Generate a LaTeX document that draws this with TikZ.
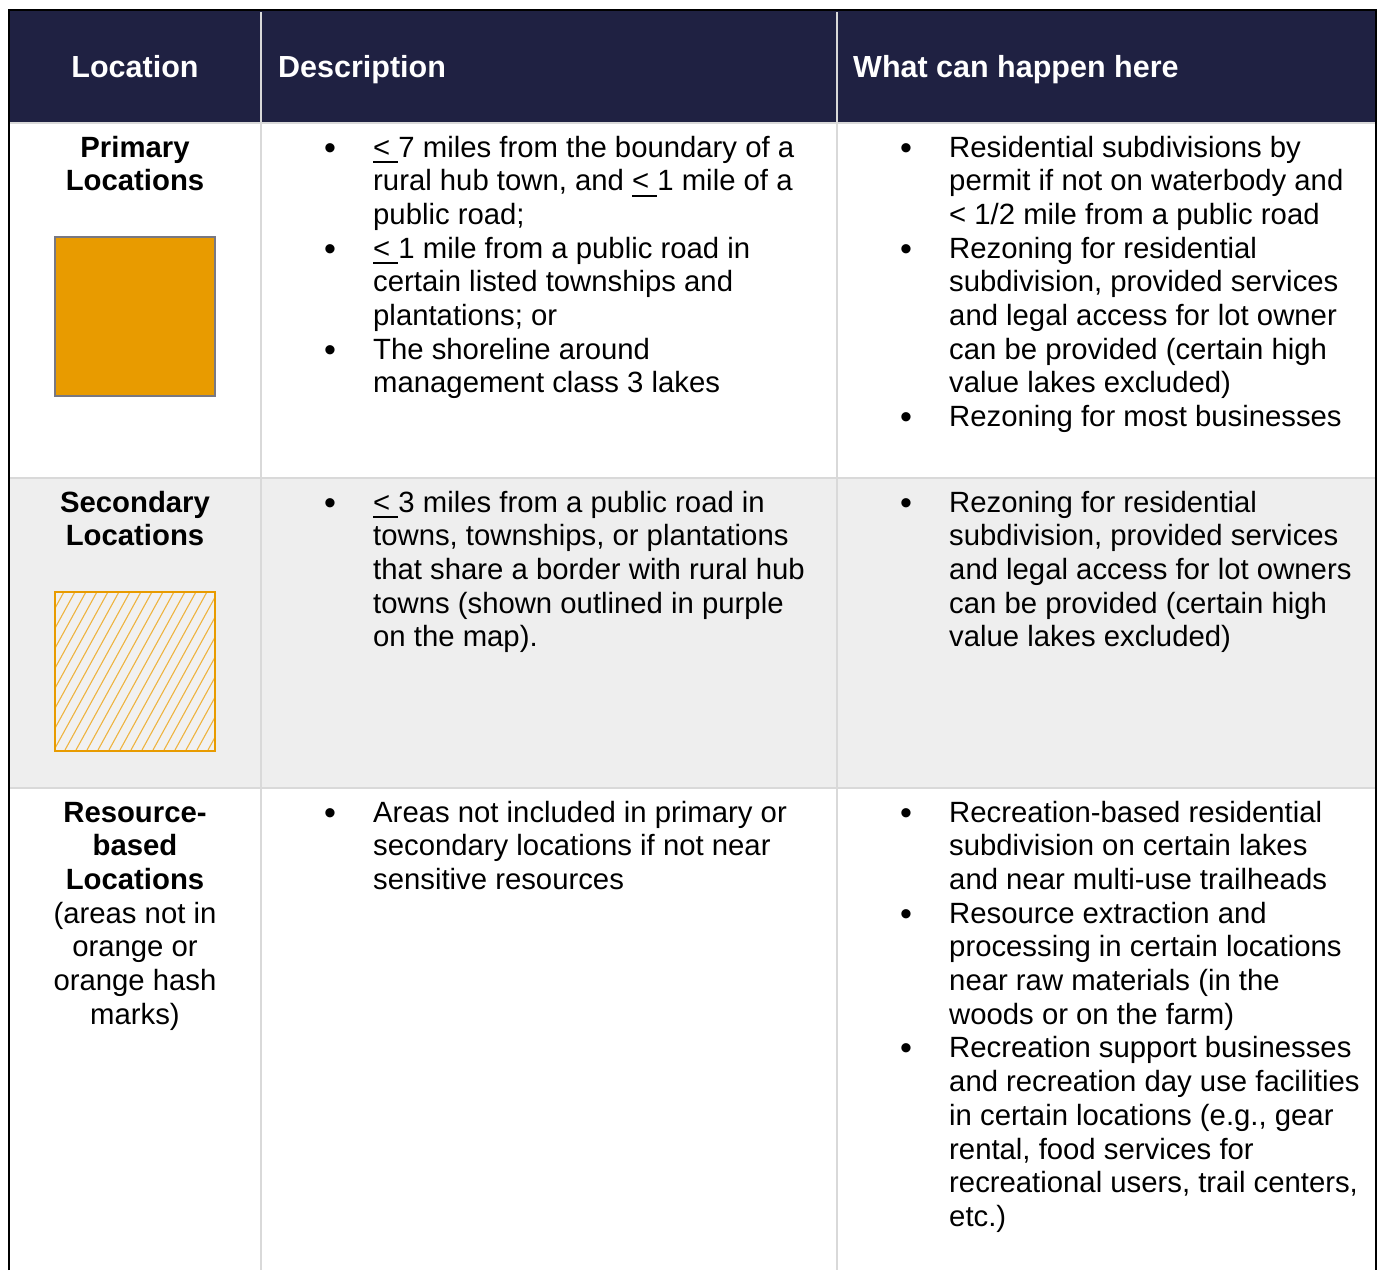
\documentclass[tikz,border=0pt]{standalone}
\usepackage{fontspec}
\setmainfont{Liberation Sans}
\definecolor{navy}{RGB}{31,33,66}
\definecolor{orng}{RGB}{232,155,0}
\definecolor{rowgray}{RGB}{238,238,238}
\definecolor{sepgray}{RGB}{217,217,217}
\definecolor{boxgray}{RGB}{120,120,130}
\definecolor{hatchfill}{RGB}{241,241,241}
\newsavebox\ltbox
\newcommand\lt{\sbox\ltbox{<\ }\rlap{\rule[-6pt]{\wd\ltbox}{2.2pt}}\usebox\ltbox}
\begin{document}
\begin{tikzpicture}[x=1pt,y=-1pt,
  txt/.style={inner sep=0pt, font=\fontsize{29.3}{33.7}\selectfont, text=black},
  bold/.style={txt, font=\fontsize{29.3}{33.7}\selectfont\bfseries},
  hdr/.style={txt, font=\fontsize{30.5}{35}\selectfont\bfseries, text=white},
  bul/.style={inner sep=0pt, font=\fontsize{34}{38}\selectfont, anchor=base, yshift=-2pt},
  ln/.style={txt, anchor=base west},
  cl/.style={txt, anchor=base},
  sepline/.style={draw=sepgray, line width=2pt},
  outer/.style={draw=black, line width=2pt}]
\useasboundingbox (0,0) rectangle (1379,1270);
% backgrounds
\fill[navy] (9,10) rectangle (1377,123);
\fill[rowgray] (9,478) rectangle (1377,788);
% separators
\draw[sepline] (261,12) -- (261,1270);
\draw[sepline] (837,12) -- (837,1270);
\draw[sepline] (9,123) -- (1377,123);
\draw[sepline] (9,478) -- (1377,478);
\draw[sepline] (9,788) -- (1377,788);
% outer border
\draw[outer] (9,1270) -- (9,10) -- (1376,10) -- (1376,1270);
% header
\node[hdr, anchor=base] (h1) at (135,77) {Location};
\node[hdr, anchor=base west] (h2) at (278,77) {Description};
\node[hdr, anchor=base west] (h3) at (853,77) {What can happen here};
% row 1 col 1
\node[bold, anchor=base] (p1) at (135,157) {Primary};
\node[bold, anchor=base] (p2) at (135,190.7) {Locations};
\node[draw=boxgray, line width=1.5pt, fill=orng, minimum width=160pt, minimum height=159pt, inner sep=0pt, anchor=north west] (sqA) at (54,236) {};
% row 2 col 1
\node[bold, anchor=base] (s1) at (135,512) {Secondary};
\node[bold, anchor=base] (s2) at (135,545.7) {Locations};
\fill[hatchfill] (54,591) rectangle (214,750);
\begin{scope}
\clip (54,591) rectangle (214,750);
\foreach \k in {-10,...,16}
  \draw[orng!75, line width=1.1pt] ({54+11*\k},750) -- ({54+11*\k+0.55*159},591);
\end{scope}
\node[draw=orng, line width=2pt, minimum width=160pt, minimum height=159pt, inner sep=0pt, anchor=north west] (sqB) at (54,591) {};
% row 3 col 1
\node[bold, anchor=base] (r1) at (135,822) {Resource-};
\node[bold, anchor=base] (r2) at (135,855.7) {based};
\node[bold, anchor=base] (r3) at (135,889.4) {Locations};
\foreach \t [count=\i from 0] in {{(areas not in},{orange or},{orange hash},{marks)}}
  \node[cl] (r\i x) at (135,{923.1+33.7*\i}) {\t};
% row 1 col 2
\foreach \y [count=\i] in {157,258.1,359.2}
  \node[bul] (db1-\i) at (330,\y) {•};
\foreach \t [count=\i from 0] in {{\lt 7 miles from the boundary of a},{rural hub town, and \lt 1 mile of a},{public road;},{\lt 1 mile from a public road in},{certain listed townships and},{plantations; or},{The shoreline around},{management class 3 lakes}}
  \node[ln] (d1-\i) at (373,{157+33.7*\i}) {\t};
% row 1 col 3
\foreach \y [count=\i] in {157,258.1,426.6}
  \node[bul] (wb1-\i) at (906,\y) {•};
\foreach \t [count=\i from 0] in {{Residential subdivisions by},{permit if not on waterbody and},{< 1/2 mile from a public road},{Rezoning for residential},{subdivision, provided services},{and legal access for lot owner},{can be provided (certain high},{value lakes excluded)},{Rezoning for most businesses}}
  \node[ln] (w1-\i) at (949,{157+33.7*\i}) {\t};
% row 2 col 2
\node[bul] (db2-1) at (330,512) {•};
\foreach \t [count=\i from 0] in {{\lt 3 miles from a public road in},{towns, townships, or plantations},{that share a border with rural hub},{towns (shown outlined in purple},{on the map).}}
  \node[ln] (d2-\i) at (373,{512+33.7*\i}) {\t};
% row 2 col 3
\node[bul] (wb2-1) at (906,512) {•};
\foreach \t [count=\i from 0] in {{Rezoning for residential},{subdivision, provided services},{and legal access for lot owners},{can be provided (certain high},{value lakes excluded)}}
  \node[ln] (w2-\i) at (949,{512+33.7*\i}) {\t};
% row 3 col 2
\node[bul] (db3-1) at (330,822) {•};
\foreach \t [count=\i from 0] in {{Areas not included in primary or},{secondary locations if not near},{sensitive resources}}
  \node[ln] (d3-\i) at (373,{822+33.7*\i}) {\t};
% row 3 col 3
\foreach \y [count=\i] in {822,923.1,1057.9}
  \node[bul] (wb3-\i) at (906,\y) {•};
\foreach \t [count=\i from 0] in {{Recreation-based residential},{subdivision on certain lakes},{and near multi-use trailheads},{Resource extraction and},{processing in certain locations},{near raw materials (in the},{woods or on the farm)},{Recreation support businesses},{and recreation day use facilities},{in certain locations (e.g., gear},{rental, food services for},{recreational users, trail centers,},{etc.)}}
  \node[ln] (w3-\i) at (949,{822+33.7*\i}) {\t};
\end{tikzpicture}
\end{document}
